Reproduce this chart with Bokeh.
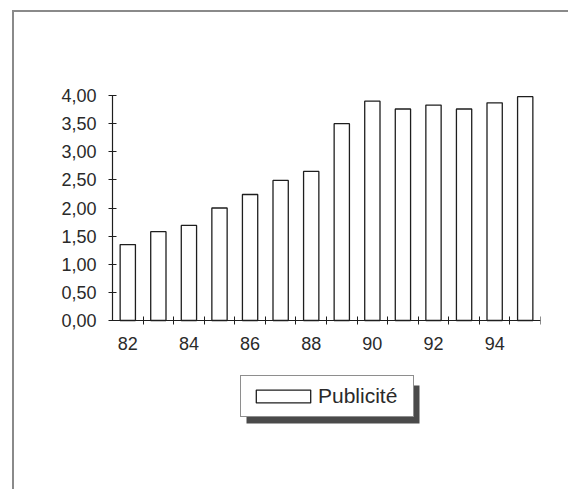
from bokeh.plotting import figure
from bokeh.models import (Range1d, FixedTicker, CustomJSTickFormatter, Legend,
                          LegendItem, ColumnDataSource, BoxAnnotation)
from bokeh.embed import file_html
from bokeh.resources import INLINE

# ---- data ----
years = [82, 83, 84, 85, 86, 87, 88, 89, 90, 91, 92, 93, 94, 95]
publicite = [1.35, 1.58, 1.69, 2.00, 2.24, 2.49, 2.65, 3.50, 3.90, 3.76, 3.83, 3.76, 3.87, 3.98]
x_tick_labels = [82, 84, 86, 88, 90, 92, 94]
y_ticks = [0.0, 0.5, 1.0, 1.5, 2.0, 2.5, 3.0, 3.5, 4.0]
series_name = "Publicité"

source = ColumnDataSource(dict(year=years, value=publicite))

FONT = "Liberation Sans"
INK = "#1e1e1e"

# layout (px): plot area of the values is 225 px tall; extra room below for the legend
AXIS_PX = 225
BELOW_PX = 120
y_lo = -y_ticks[-1] * BELOW_PX / AXIS_PX

p = figure(width=556, height=479, output_backend="svg", toolbar_location=None,
           x_range=Range1d(years[0] - 0.5, years[-1] + 0.5),
           y_range=Range1d(y_lo, y_ticks[-1]),
           min_border_left=98, min_border_right=30,
           min_border_top=83, min_border_bottom=51)
p.margin = (10, 0, 0, 12)
p.styles = {"border-top": "2px solid #8a8a8a", "border-left": "2px solid #8a8a8a"}
p.outline_line_color = None
p.grid.visible = False
p.background_fill_color = "white"
p.border_fill_color = "white"

r = p.vbar(x="year", top="value", width=0.5, source=source,
           fill_color="white", line_color=INK, line_width=1.3)

# x axis: drawn at value 0, labels every other year, ticks at category boundaries
p.xaxis.fixed_location = 0
p.xaxis.ticker = FixedTicker(ticks=x_tick_labels,
                             minor_ticks=[y + 0.5 for y in years])
p.xaxis.major_tick_line_color = None
p.xaxis.major_tick_in = 0
p.xaxis.major_tick_out = 0
p.xaxis.minor_tick_in = 4
p.xaxis.minor_tick_out = 4
p.xaxis.minor_tick_line_color = INK
p.xaxis.major_label_standoff = 12

# y axis
p.yaxis.bounds = (y_ticks[0], y_ticks[-1])
p.yaxis.ticker = FixedTicker(ticks=y_ticks, minor_ticks=[])
p.yaxis.formatter = CustomJSTickFormatter(code="return tick.toFixed(2).replace('.', ',');")
p.yaxis.major_tick_in = 4
p.yaxis.major_tick_out = 4
p.yaxis.major_tick_line_color = INK
p.yaxis.minor_tick_line_color = None
p.yaxis.major_label_standoff = 12

for ax in (p.xaxis, p.yaxis):
    ax.axis_line_color = INK
    ax.axis_line_width = 1.2
    ax.major_label_text_font = FONT
    ax.major_label_text_font_size = "18px"
    ax.major_label_text_color = "#2a2a2a"

# legend shadow (canvas pixels; canvas origin is the figure's top-left corner)
shadow = BoxAnnotation(left=230, right=403, top=371, bottom=409,
                       left_units="canvas", right_units="canvas",
                       top_units="canvas", bottom_units="canvas",
                       fill_color="#4a4a4a", fill_alpha=1, line_color=None)
p.add_layout(shadow)

legend = Legend(items=[LegendItem(label=series_name, renderers=[r])],
                location=(128, 23), padding=8, margin=0,
                glyph_width=68, glyph_height=16, label_standoff=1, label_width=87,
                label_text_font=FONT, label_text_font_size="21px",
                label_text_color="#2a2a2a",
                border_line_color=INK, border_line_width=1.3,
                background_fill_color="white", background_fill_alpha=1)
p.add_layout(legend, "center")

open("out.html", "w").write(file_html(p, INLINE))
